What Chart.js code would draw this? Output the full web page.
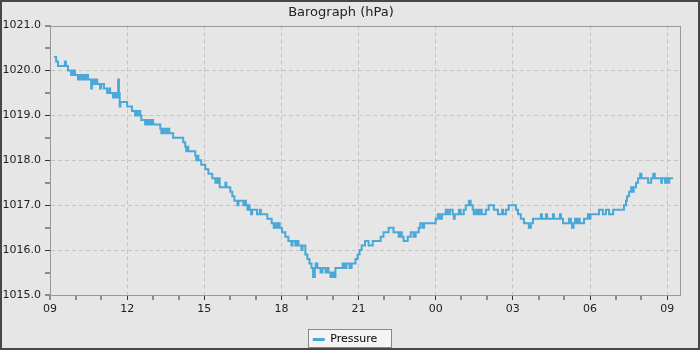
<!DOCTYPE html>
<html>
<head>
<meta charset="utf-8">
<script src="https://cdn.jsdelivr.net/npm/chart.js@4/dist/chart.umd.min.js"></script>
<style>
  body { margin: 0; background: #e6e6e6; }
  #frame { width: 696px; height: 346px; border: 2px solid #474747; background: #e6e6e6; }
</style>
</head>
<body>
<div id="frame"><canvas id="baro" width="696" height="346"></canvas></div>
<script>
// hours since 09:00, pressure readings (hPa)
const hours = [
  0.16, 0.24, 0.31, 0.58, 0.62, 0.70, 0.82, 0.86, 0.90, 0.94, 0.97, 1.09, 1.13, 1.21, 1.25, 1.32,
  1.40, 1.48, 1.60, 1.63, 1.68, 1.72, 1.76, 1.80, 1.84, 1.95, 1.99, 2.10, 2.22, 2.30, 2.34, 2.45,
  2.53, 2.57, 2.65, 2.68, 2.71, 2.74, 3.00, 3.19, 3.31, 3.35, 3.39, 3.47, 3.51, 3.55, 3.70, 3.74,
  3.80, 3.86, 3.92, 3.98, 4.01, 4.29, 4.33, 4.40, 4.48, 4.56, 4.64, 4.79, 5.18, 5.26, 5.30, 5.34,
  5.38, 5.65, 5.69, 5.73, 5.77, 5.88, 6.04, 6.16, 6.31, 6.43, 6.47, 6.51, 6.55, 6.60, 6.82, 6.86,
  7.01, 7.09, 7.17, 7.29, 7.33, 7.52, 7.56, 7.62, 7.68, 7.72, 7.76, 7.82, 7.86, 8.05, 8.16, 8.20,
  8.45, 8.62, 8.70, 8.76, 8.82, 8.88, 8.93, 9.02, 9.15, 9.27, 9.39, 9.43, 9.54, 9.58, 9.66, 9.78,
  9.82, 9.93, 10.01, 10.09, 10.17, 10.23, 10.30, 10.33, 10.40, 10.52, 10.60, 10.72, 10.80, 10.83,
  10.91, 10.95, 11.03, 11.10, 11.38, 11.45, 11.53, 11.65, 11.73, 11.88, 11.96, 12.04, 12.12, 12.25,
  12.39, 12.55, 12.86, 12.97, 13.17, 13.36, 13.56, 13.60, 13.68, 13.75, 13.91, 14.03, 14.14, 14.22,
  14.34, 14.40, 14.49, 14.55, 15.00, 15.08, 15.16, 15.24, 15.39, 15.47, 15.55, 15.66, 15.70, 15.74,
  15.90, 15.97, 16.09, 16.17, 16.29, 16.36, 16.44, 16.48, 16.56, 16.64, 16.71, 16.79, 16.95, 17.06,
  17.26, 17.42, 17.58, 17.62, 17.73, 17.84, 18.12, 18.20, 18.31, 18.43, 18.62, 18.70, 18.78, 19.09,
  19.13, 19.29, 19.33, 19.56, 19.60, 19.83, 19.87, 19.95, 20.18, 20.26, 20.30, 20.36, 20.42, 20.48,
  20.54, 20.60, 20.77, 20.92, 20.96, 21.02, 21.35, 21.50, 21.62, 21.74, 21.90, 22.32, 22.40, 22.44,
  22.52, 22.60, 22.64, 22.70, 22.79, 22.87, 22.95, 23.00, 23.26, 23.38, 23.46, 23.52, 23.77, 23.80,
  23.92, 23.96, 24.04, 24.08, 24.23
];
const pressure = [
  1020.3, 1020.2, 1020.1, 1020.2, 1020.1, 1020.0, 1019.9, 1020.0, 1019.9, 1020.0, 1019.9, 1019.8, 1019.9, 1019.8, 1019.9, 1019.8,
  1019.9, 1019.8, 1019.6, 1019.8, 1019.7, 1019.8, 1019.7, 1019.8, 1019.7, 1019.6, 1019.7, 1019.6, 1019.5, 1019.6, 1019.5, 1019.4,
  1019.5, 1019.4, 1019.8, 1019.5, 1019.2, 1019.3, 1019.2, 1019.1, 1019.0, 1019.1, 1019.0, 1019.1, 1019.0, 1018.9, 1018.8, 1018.9,
  1018.8, 1018.9, 1018.8, 1018.9, 1018.8, 1018.7, 1018.6, 1018.7, 1018.6, 1018.7, 1018.6, 1018.5, 1018.4, 1018.3, 1018.2, 1018.3,
  1018.2, 1018.1, 1018.0, 1018.1, 1018.0, 1017.9, 1017.8, 1017.7, 1017.6, 1017.5, 1017.6, 1017.5, 1017.6, 1017.4, 1017.5, 1017.4,
  1017.3, 1017.2, 1017.1, 1017.0, 1017.1, 1017.0, 1017.1, 1017.0, 1016.9, 1017.0, 1016.9, 1016.8, 1016.9, 1016.8, 1016.9, 1016.8,
  1016.7, 1016.6, 1016.5, 1016.6, 1016.5, 1016.6, 1016.5, 1016.4, 1016.3, 1016.2, 1016.1, 1016.2, 1016.1, 1016.2, 1016.1, 1016.0,
  1016.1, 1015.9, 1015.8, 1015.7, 1015.6, 1015.4, 1015.6, 1015.7, 1015.6, 1015.5, 1015.6, 1015.5, 1015.6, 1015.5,
  1015.4, 1015.5, 1015.4, 1015.6, 1015.7, 1015.6, 1015.7, 1015.6, 1015.7, 1015.8, 1015.9, 1016.0, 1016.1, 1016.2,
  1016.1, 1016.2, 1016.3, 1016.4, 1016.5, 1016.4, 1016.3, 1016.4, 1016.3, 1016.2, 1016.3, 1016.4, 1016.3, 1016.4,
  1016.5, 1016.6, 1016.5, 1016.6, 1016.7, 1016.8, 1016.7, 1016.8, 1016.9, 1016.8, 1016.9, 1016.8, 1016.7, 1016.8,
  1016.9, 1016.8, 1016.9, 1017.0, 1017.1, 1017.0, 1016.9, 1016.8, 1016.9, 1016.8, 1016.9, 1016.8, 1016.9, 1017.0,
  1016.9, 1016.8, 1016.9, 1016.8, 1016.9, 1017.0, 1016.9, 1016.8, 1016.7, 1016.6, 1016.5, 1016.6, 1016.7, 1016.8,
  1016.7, 1016.8, 1016.7, 1016.8, 1016.7, 1016.8, 1016.7, 1016.6, 1016.7, 1016.6, 1016.5, 1016.6, 1016.7, 1016.6,
  1016.7, 1016.6, 1016.7, 1016.8, 1016.7, 1016.8, 1016.9, 1016.8, 1016.9, 1016.8, 1016.9, 1017.0, 1017.1, 1017.2,
  1017.3, 1017.4, 1017.3, 1017.4, 1017.5, 1017.6, 1017.7, 1017.6, 1017.5, 1017.6, 1017.7, 1017.6, 1017.5, 1017.6,
  1017.5, 1017.6, 1017.5, 1017.6, 1017.6
];
const startHour = 9;
const lineColor = "#4aa8d8";

Chart.defaults.font.family = "DejaVu Sans";
Chart.defaults.font.size = 11;
Chart.defaults.color = "#222";

// plot box on all four sides + framed legend
const framePlugin = {
  id: "frames",
  afterLayout(chart) {
    // nudge the legend so it sits under the middle of the canvas
    chart.legend.left += 4;
    chart.legend.right += 4;
    chart.legend.legendHitBoxes.forEach(b => { b.left += 4; });
  },
  beforeDraw(chart) {
    const ctx = chart.ctx;
    const box = chart.legend.legendHitBoxes[0];
    if (box) {
      const l = Math.round(box.left) - 4.5, t = Math.round(box.top) - 4.5;
      const w = Math.round(box.width) + 19, h = Math.round(box.height) + 7;
      ctx.save();
      ctx.fillStyle = "#f4f4f4";
      ctx.fillRect(l, t, w, h);
      ctx.strokeStyle = "#888";
      ctx.lineWidth = 1;
      ctx.strokeRect(l, t, w, h);
      ctx.restore();
    }
  },
  afterDraw(chart) {
    const a = chart.chartArea;
    const ctx = chart.ctx;
    ctx.save();
    ctx.strokeStyle = "#999";
    ctx.lineWidth = 1;
    ctx.strokeRect(Math.round(a.left) + 0.5, Math.round(a.top) + 0.5,
      Math.round(a.right - a.left), Math.round(a.bottom - a.top));
    ctx.restore();
  }
};

new Chart(document.getElementById("baro"), {
  type: "line",
  data: {
    datasets: [{
      label: "Pressure",
      data: hours.map((h, i) => ({ x: h, y: pressure[i] })),
      borderColor: lineColor,
      backgroundColor: lineColor,
      borderWidth: 2,
      pointRadius: 0,
      stepped: true,
      fill: false
    }]
  },
  options: {
    responsive: false,
    animation: false,
    devicePixelRatio: 1,
    layout: { padding: { top: 0, right: 18, bottom: -7, left: 0 } },
    plugins: {
      title: {
        display: true,
        text: "Barograph (hPa)",
        font: { size: 13, weight: "normal" },
        color: "#222",
        padding: { top: 3, bottom: 5 }
      },
      legend: {
        position: "bottom",
        labels: {
          boxWidth: 12,
          boxHeight: 3,
          padding: 4,
          color: "#222",
          generateLabels: () => [{
            text: "Pressure", fillStyle: lineColor, strokeStyle: lineColor,
            lineWidth: 0, datasetIndex: 0
          }]
        }
      },
      tooltip: { enabled: false }
    },
    scales: {
      x: {
        type: "linear",
        min: 0,
        max: 24.5,
        afterFit: s => { s.height = 35; },
        ticks: {
          stepSize: 1,
          includeBounds: false,
          autoSkip: false,
          maxRotation: 0,
          padding: 3,
          color: "#222",
          callback: v => v % 3 === 0 ? String((startHour + v) % 24).padStart(2, "0") : ""
        },
        grid: {
          color: "#c4c4c4",
          lineWidth: c => (c.tick && c.tick.value % 3 === 0 && c.tick.value !== 0) ? 1 : 0,
          tickLength: 5,
          tickWidth: 1,
          tickColor: "#333"
        },
        border: { color: "#999", width: 1, dash: [4, 3] }
      },
      y: {
        min: 1015,
        max: 1021,
        afterFit: s => { s.width = 48; },
        ticks: {
          stepSize: 0.5,
          includeBounds: false,
          autoSkip: false,
          padding: 4,
          color: "#222",
          callback: v => Number.isInteger(v) ? v.toFixed(1) : ""
        },
        grid: {
          color: "#c4c4c4",
          lineWidth: c => (c.tick && Number.isInteger(c.tick.value) && c.tick.value > 1015 && c.tick.value < 1021) ? 1 : 0,
          tickLength: 5,
          tickWidth: 1,
          tickColor: "#333"
        },
        border: { color: "#999", width: 1, dash: [4, 3] }
      }
    }
  },
  plugins: [framePlugin]
});
</script>
</body>
</html>
